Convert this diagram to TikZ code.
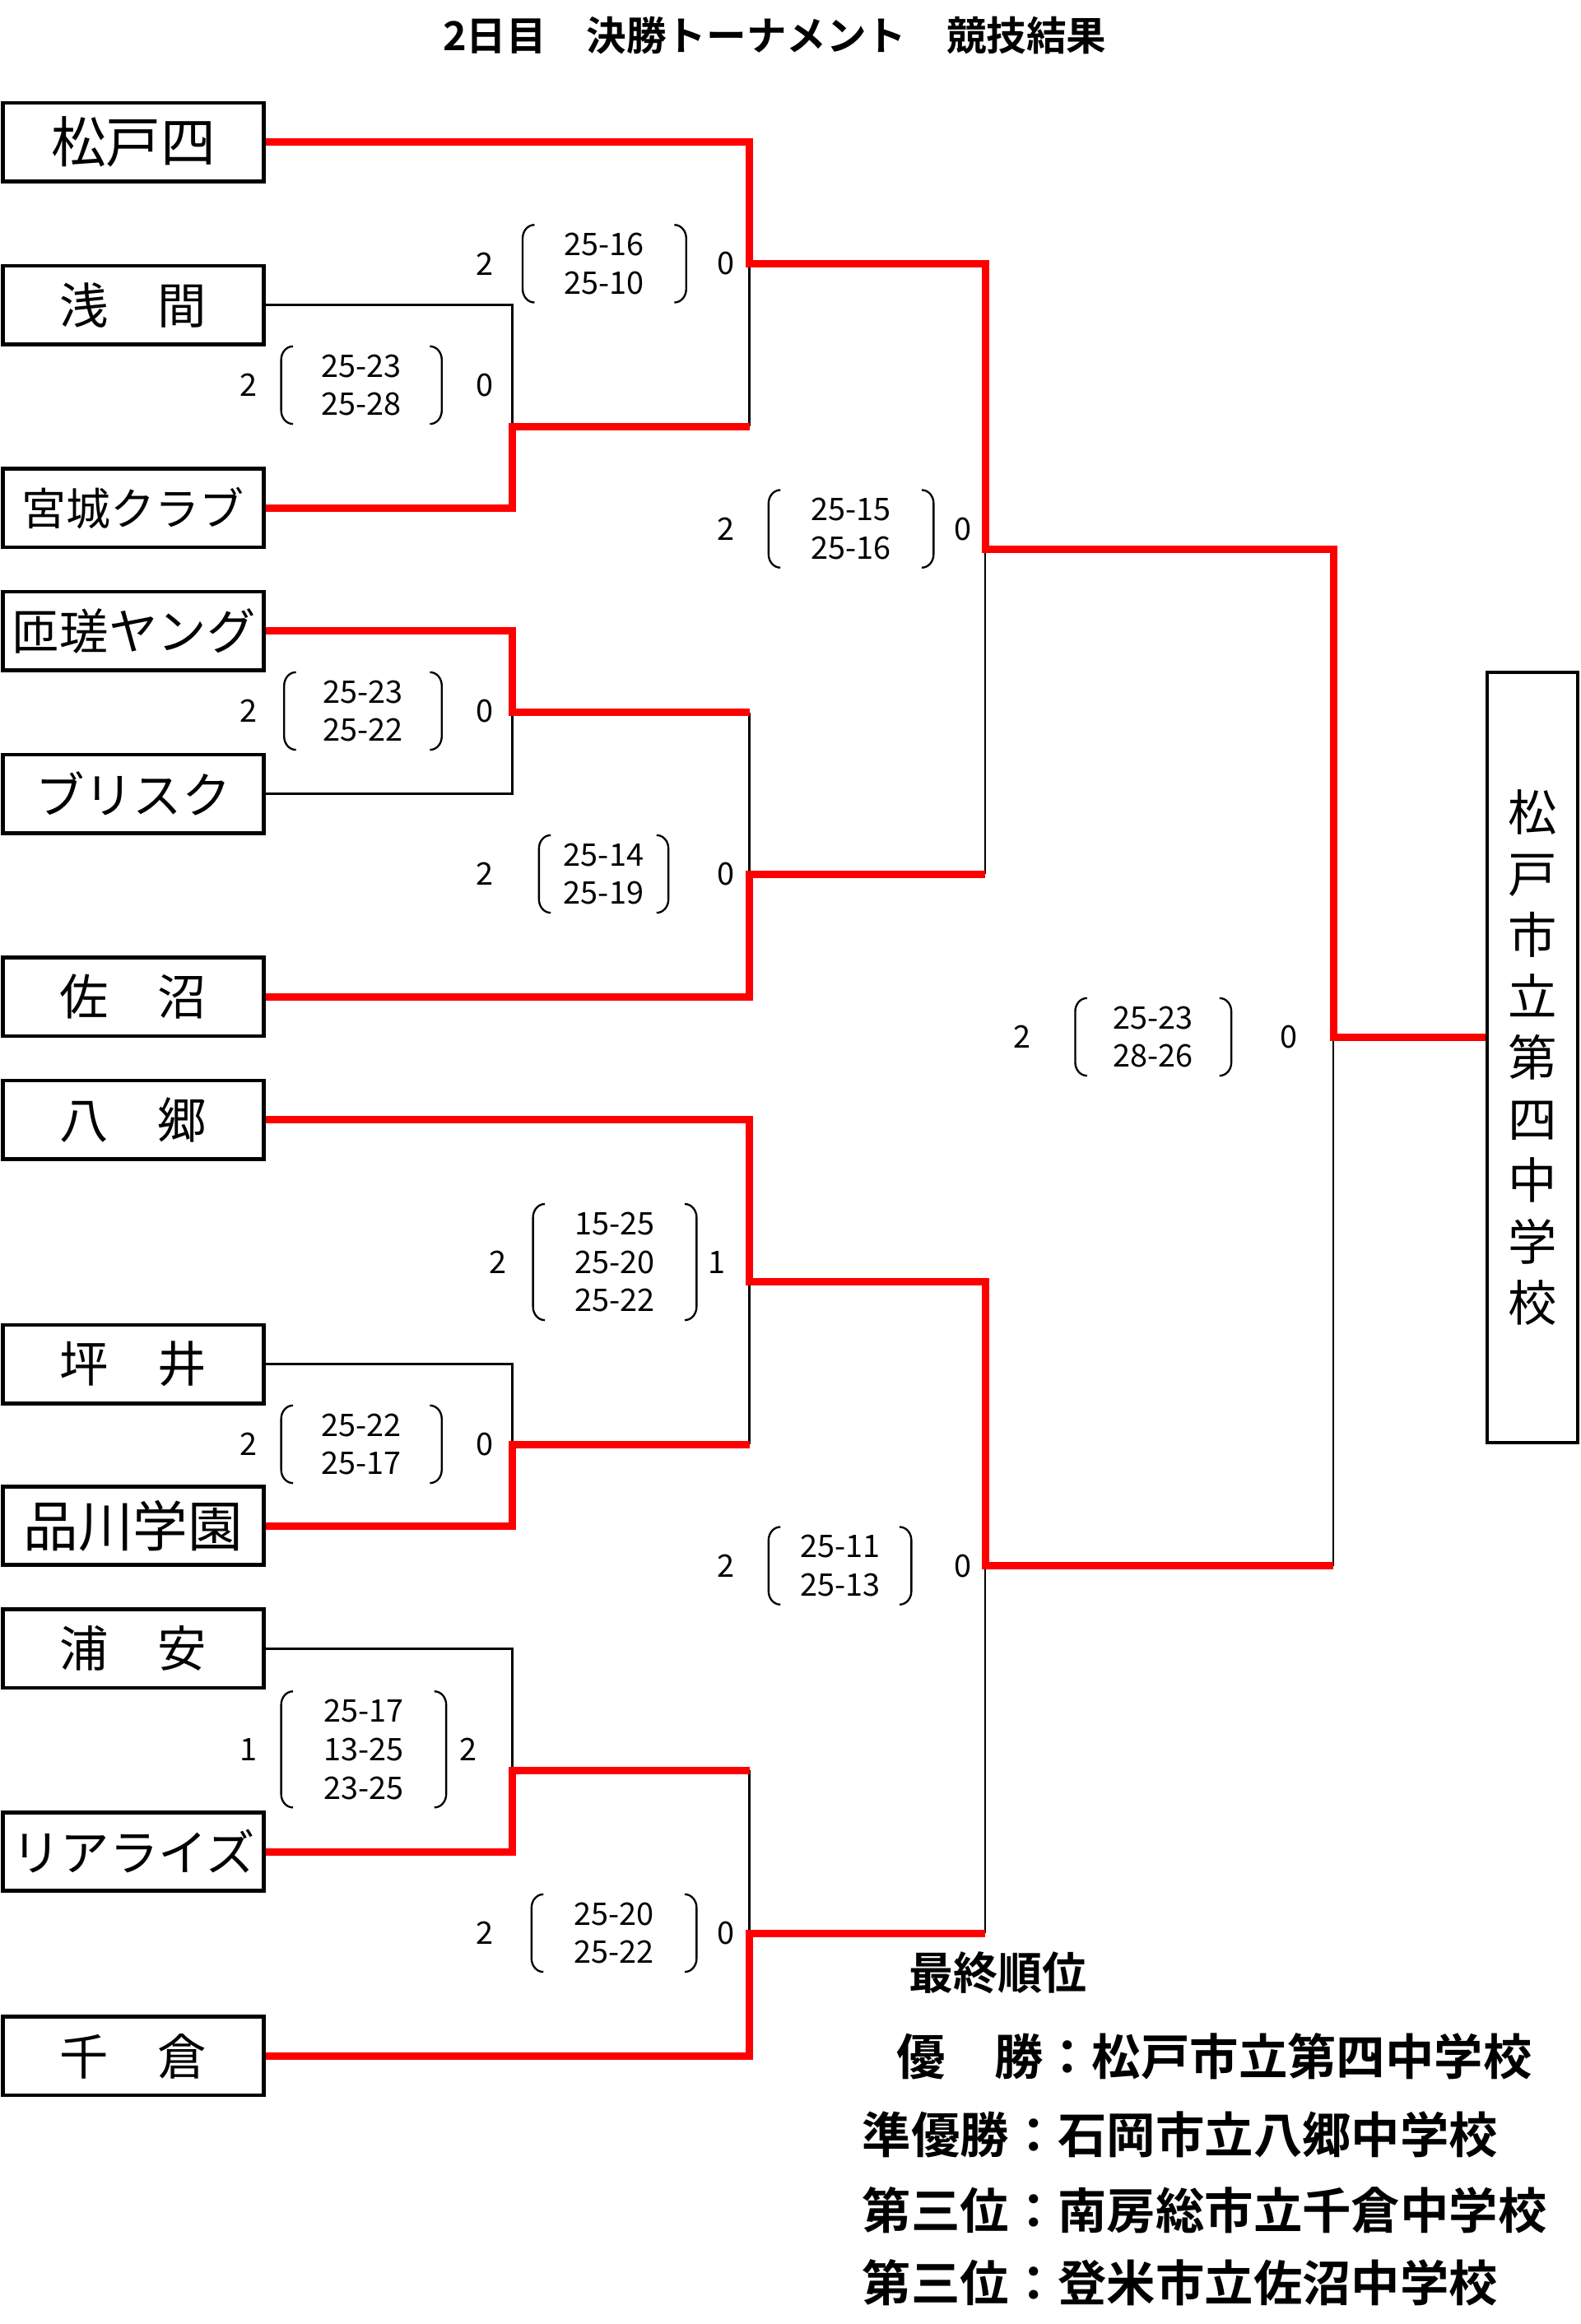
\documentclass[tikz,border=0pt]{standalone}
\usepackage{fontspec}
\setmainfont{Noto Sans CJK JP}[BoldFont={Noto Sans CJK JP Bold}]
\usetikzlibrary{positioning}
\definecolor{winred}{rgb}{1,0,0}

\newcommand{\brk}[1]{%
	\draw[B] ([xshift=8pt]#1.north west) to[out=180,in=90] ([yshift=-9pt]#1.north west)
	-- ([yshift=9pt]#1.south west) to[out=-90,in=180] ([xshift=8pt]#1.south west);
	\draw[B] ([xshift=-8pt]#1.north east) to[out=0,in=90] ([yshift=-9pt]#1.north east)
	-- ([yshift=9pt]#1.south east) to[out=-90,in=0] ([xshift=-8pt]#1.south east);}

\begin{document}
\begin{tikzpicture}[x=1pt, y=-1pt, T/.style = {draw, line width=2.5pt,
		minimum width=176pt, minimum height=53pt, inner sep=0pt,
		font=\fontsize{33}{33}\selectfont},
	S/.style = {align=center, inner sep=0pt, minimum width=108pt,
		minimum height=52pt, font=\fontsize{21}{26}\selectfont},
	N/.style = {inner sep=0pt, font=\fontsize{21}{26}\selectfont},
	W/.style = {draw=winred, line width=5pt},
	L/.style = {draw, line width=1.5pt},
	B/.style = {line width=1.3pt},
	R/.style = {anchor=west, inner sep=0pt, font=\bfseries\fontsize{33}{33}\selectfont}
	]
	\useasboundingbox (0,0) rectangle (1067.2,1568.9);
	\node[font=\bfseries\fontsize{27}{27}\selectfont] (t) at (523,24) {2日目　決勝トーナメント　競技結果};
	
	\begin{scope}[nodes=T]
		\node[font=\fontsize{37}{37}\selectfont] (1) at (90,96) {松戸四};
		\node (2) at (90,206) {浅　間};
		\node[font=\fontsize{30}{30}\selectfont] (3) at (90,343) {宮城クラブ};
		\node (4) at (90,426) {匝瑳ヤング};
		\node (5) at (90,536) {ブリスク};
		\node (6) at (90,673) {佐　沼};
		\node (7) at (90,756) {八　郷};
		\node (8) at (90,921) {坪　井};
		\node[font=\fontsize{37}{37}\selectfont] (9) at (90,1030) {品川学園};
		\node (10) at (90,1113) {浦　安};
		\node (11) at (90,1250) {リアライズ};
		\node (12) at (90,1388) {千　倉};
		\node[minimum width=61pt, minimum height=520pt, align=center,
		font=\fontsize{33}{41.4}\selectfont] (13) at (1034.5,714) {松\\戸\\市\\立\\第\\四\\中\\学\\校};
	\end{scope}
	
	\coordinate (a1) at (346,288);
	\coordinate (a2) at (346,481);
	\coordinate (a3) at (346,975);
	\coordinate (a4) at (346,1195);
	\coordinate (b1) at (506,178);
	\coordinate (b2) at (506,590);
	\coordinate (b3) at (506,865);
	\coordinate (b4) at (506,1305);
	\coordinate (c1) at (665,371);
	\coordinate (c2) at (665,1057);
	\coordinate (f) at (900,700);
	
	% lost
	\draw[L] (2.east) -| (a1);
	\draw[L] (5.east) -| (a2);
	\draw[L] (8.east) -| (a3);
	\draw[L] (10.east) -| (a4);
	\draw[L] (a1 -| b1) -- (b1);
	\draw[L] (a2 -| b2) -- (b2);
	\draw[L] (a3 -| b3) -- (b3);
	\draw[L] (a4 -| b4) -- (b4);
	\draw[L] (b2 -| c1) -- (c1);
	\draw[L] (b4 -| c2) -- (c2);
	\draw[L] (c2 -| f) -- (f);
	
	% won
	\draw[W] (1.east) -| (b1) -| (c1) -| (f) -- (f -| 13.west);
	\draw[W] (3.east) -| (a1) -- (a1 -| b1);
	\draw[W] (4.east) -| (a2) -- (a2 -| b2);
	\draw[W] (6.east) -| (b2) -- (b2 -| c1);
	\draw[W] (7.east) -| (b3) -| (c2) -- (c2 -| f);
	\draw[W] (9.east) -| (a3) -- (a3 -| b3);
	\draw[W] (11.east) -| (a4) -- (a4 -| b4);
	\draw[W] (12.east) -| (b4) -- (b4 -| c2);
	
	% scores
	\node[S] (s1) at (244,260) {25-23\\25-28};
	\node[S, minimum width=106pt] (s2) at (245,480) {25-23\\25-22};
	\node[S] (s3) at (244,975) {25-22\\25-17};
	\node[S, minimum width=111pt, minimum height=78pt] (s4) at (245.5,1181) {25-17\\13-25\\23-25};
	\node[S, minimum width=110pt] (s5) at (408,178) {25-16\\25-10};
	\node[S, minimum width=87pt] (s6) at (407.5,590) {25-14\\25-19};
	\node[S, minimum width=110pt, minimum height=78pt] (s7) at (415,852) {15-25\\25-20\\25-22};
	\node[S, minimum width=111pt] (s8) at (414.5,1305) {25-20\\25-22};
	\node[S, minimum width=111pt] (s9) at (574.5,357) {25-15\\25-16};
	\node[S, minimum width=96pt] (s10) at (567,1057) {25-11\\25-13};
	\node[S, minimum width=105pt] (s11) at (778.5,700) {25-23\\28-26};
	\brk{s1} \brk{s2} \brk{s3} \brk{s4} \brk{s5} \brk{s6}
	\brk{s7} \brk{s8} \brk{s9} \brk{s10} \brk{s11}
	
	\node[N] (s1l) at (168,260) {2};   \node[N] (s1r) at (327,260) {0};
	\node[N] (s2l) at (168,480) {2};   \node[N] (s2r) at (327,480) {0};
	\node[N] (s3l) at (168,975) {2};   \node[N] (s3r) at (327,975) {0};
	\node[N] (s4l) at (168,1181) {1};  \node[N] (s4r) at (316,1181) {2};
	\node[N] (s5l) at (327,178) {2};   \node[N] (s5r) at (490,178) {0};
	\node[N] (s6l) at (327,590) {2};   \node[N] (s6r) at (490,590) {0};
	\node[N] (s7l) at (336,852) {2};   \node[N] (s7r) at (484,852) {1};
	\node[N] (s8l) at (327,1305) {2};  \node[N] (s8r) at (490,1305) {0};
	\node[N] (s9l) at (490,357) {2};   \node[N] (s9r) at (650,357) {0};
	\node[N] (s10l) at (490,1057) {2}; \node[N] (s10r) at (650,1057) {0};
	\node[N] (s11l) at (690,700) {2};  \node[N] (s11r) at (870,700) {0};
	
	% final ranking
	\node[R, anchor=center, font=\bfseries\fontsize{30}{30}\selectfont] (r0) at (673.5,1332) {最終順位};
	\node[R] (r1) at (605,1388) {優　勝：松戸市立第四中学校};
	\node[R] (r2) at (582,1441) {準優勝：石岡市立八郷中学校};
	\node[R] (r3) at (582,1492) {第三位：南房総市立千倉中学校};
	\node[R] (r4) at (582,1541) {第三位：登米市立佐沼中学校};
\end{tikzpicture}
\end{document}
